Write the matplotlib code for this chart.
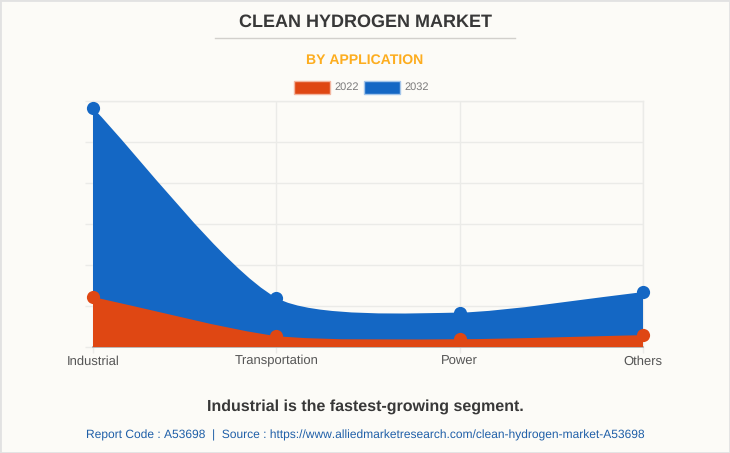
import numpy as np
import matplotlib
matplotlib.use('Agg')
import matplotlib.pyplot as plt
from matplotlib.lines import Line2D
from matplotlib.patches import PathPatch, Rectangle
from matplotlib.path import Path

plt.rcParams['font.family'] = ['Liberation Sans', 'DejaVu Sans']
plt.rcParams['text.hinting'] = 'no_hinting'
plt.rcParams['text.hinting_factor'] = 1

categories = ['Industrial', 'Transportation', 'Power', 'Others']
values_2022 = [12.2, 2.7, 1.9, 2.9]
values_2032 = [58.3, 12.0, 8.4, 13.4]

W, H = 730, 453
BG = '#FCFBF7'
RED = '#DF4713'
BLUE = '#1467C4'
GRID = '#EBEBE8'


# Same bezier smoothing as the web chart, worked out in pixels
def spline_path(ax, values, tension=0.24):
    pts = ax.transData.transform(np.column_stack([np.arange(len(values)), values]))
    ctrl_in, ctrl_out = [None]*len(pts), [None]*len(pts)
    for i in range(len(pts)):
        prev = pts[max(i-1, 0)]
        nxt = pts[min(i+1, len(pts)-1)]
        d01 = np.hypot(*(pts[i]-prev))
        d12 = np.hypot(*(nxt-pts[i]))
        s = d01/(d01+d12)
        ctrl_in[i] = pts[i] - tension*s*(nxt-prev)
        ctrl_out[i] = pts[i] + tension*(1-s)*(nxt-prev)

    base = ax.transData.transform([[0, 0], [len(pts)-1, 0]])
    verts = [base[0], pts[0]]
    codes = [Path.MOVETO, Path.LINETO]
    for i in range(len(pts)-1):
        verts += [ctrl_out[i], ctrl_in[i+1], pts[i+1]]
        codes += [Path.CURVE4]*3
    verts += [base[1], base[0]]
    codes += [Path.LINETO, Path.CLOSEPOLY]
    return Path(ax.transData.inverted().transform(np.array(verts)), codes)


fig = plt.figure(figsize=(W/100, H/100), dpi=100, facecolor=BG)

# Plot area in pixels: x 93-643, y 101-347
ax = fig.add_axes([93/W, 1-347/H, 550/W, 246/H], facecolor=BG)
ax.set_xlim(0, 3)
ax.set_ylim(0, 60)

ax.set_xticks(range(4))
ax.set_xticklabels(categories, fontsize=9.4, color='#555555')
ax.set_yticks(range(0, 61, 10))
ax.set_yticklabels([])
ax.tick_params(axis='x', length=4, width=1, color=GRID, pad=8.6)
ax.tick_params(axis='y', length=6, width=1, color=GRID)
for label in ax.get_xticklabels():
    label.set_verticalalignment('baseline')
ax.grid(True, color=GRID, lw=1)
ax.set_axisbelow(True)
for name, spine in ax.spines.items():
    spine.set_color(GRID)
    spine.set_linewidth(1)
ax.spines['bottom'].set_color('#B5B0B0')
ax.spines['bottom'].set_linewidth(1.3)

for vals, col, z in [(values_2032, BLUE, 3), (values_2022, RED, 4)]:
    ax.add_patch(PathPatch(spline_path(ax, vals), facecolor=col, edgecolor='none', zorder=z))
    ax.plot(range(4), vals, ls='none', marker='o', ms=9.5, mfc=col, mec=col, mew=0,
            clip_on=False, zorder=z+2)

# Header
fig.text(365.5/W, 1-22/H, 'CLEAN HYDROGEN MARKET', ha='center', va='center',
         fontsize=12.8, fontweight='bold', color='#383838')
fig.add_artist(Line2D([215/W, 515/W], [1-37.5/H]*2, color='#D2D0CC', lw=1))
fig.text(365/W, 1-60/H, 'BY APPLICATION', ha='center', va='center',
         fontsize=10.1, fontweight='bold', color='#FDAD1F')

# Legend drawn by hand to get the wide swatches
for x0, col, edge, lab in [(294, RED, '#F3B59F', '2022'), (364, BLUE, '#A3C5EA', '2032')]:
    fig.add_artist(Rectangle((x0/W, 1-94/H), 36/W, 13/H, transform=fig.transFigure,
                             facecolor=col, edgecolor=edge, lw=1))
    fig.text((x0+40)/W, 1-87.5/H, lab, ha='left', va='center', fontsize=7.6, color='#7B7B7B')

# Footer
fig.text(365/W, 1-407/H, 'Industrial is the fastest-growing segment.', ha='center', va='center',
         fontsize=11.6, fontweight='bold', color='#383838')
fig.text(365/W, 1-435/H, 'Report Code : A53698  |  Source : https://www.alliedmarketresearch.com/clean-hydrogen-market-A53698',
         ha='center', va='center', fontsize=8.68, color='#1F5FA8')

# Thin frame around the image
fig.add_artist(Rectangle((0, 0), 1, 1, transform=fig.transFigure, facecolor='none',
                         edgecolor='#E2E2E2', lw=2))

fig.savefig('out.png', dpi=100, facecolor=BG)
